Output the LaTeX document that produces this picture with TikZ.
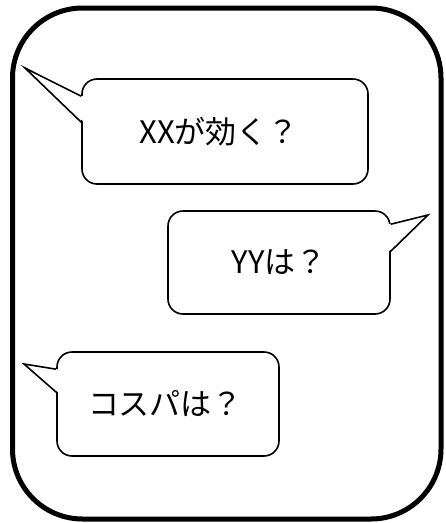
\documentclass[tikz,border=0pt]{standalone}
\usepackage{fontspec}
\setmainfont{Noto Sans CJK JP}
\usetikzlibrary{calc}
\begin{document}
\begin{tikzpicture}[x=1pt,y=-1pt,
  bubble/.style={draw=black, line width=1.6pt, fill=white, rounded corners=15pt,
    inner sep=0pt, font=\fontsize{31}{36}\selectfont},
  tail/.style={draw=black, line width=1.6pt, line join=miter}]
\useasboundingbox (0,0) rectangle (446,523);
\draw[line width=5pt, rounded corners=70pt] (12.5,8) rectangle (441,519);
% bubble 1
\node[bubble, minimum width=286pt, minimum height=105pt] (b1) at (225,131.5) {XXが効く？\kern12pt};
\coordinate (t1) at (25,68);
\fill[white] ($(b1.north west)+(4,19.5)$) -- (t1) -- ($(b1.north west)+(4,45)$) -- cycle;
\draw[tail] ($(b1.north west)+(0,18)$) -- (t1) -- ($(b1.north west)+(0,44)$);
% bubble 2
\node[bubble, minimum width=222pt, minimum height=103pt] (b2) at (279,262.5) {YYは？};
\coordinate (t2) at (428,215);
\fill[white] ($(b2.north east)+(-4,14.5)$) -- (t2) -- ($(b2.north east)+(-4,43)$) -- cycle;
\draw[tail] ($(b2.north east)+(0,14)$) -- (t2) -- ($(b2.north east)+(0,41)$);
% bubble 3
\node[bubble, minimum width=222pt, minimum height=104pt] (b3) at (168,404) {コスパは？\kern5pt};
\coordinate (t3) at (24,364);
\fill[white] ($(b3.north west)+(4,18.5)$) -- (t3) -- ($(b3.north west)+(4,43)$) -- cycle;
\draw[tail] ($(b3.north west)+(0,18)$) -- (t3) -- ($(b3.north west)+(0,41)$);
\end{tikzpicture}
\end{document}
